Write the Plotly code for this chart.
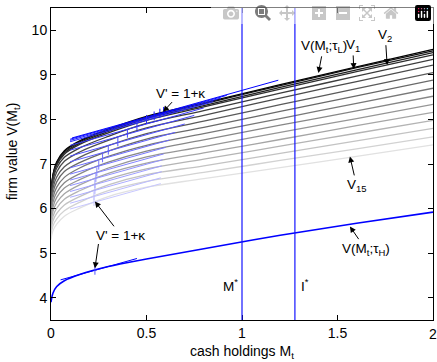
import numpy as np
import plotly.graph_objects as go

# cash holdings grid
M = [0, 0.01, 0.03, 0.07, 0.15, 0.3, 0.5, 0.8, 1.2, 1.6, 2.0]

# V(M; tau_L) (top) and V_1 ... V_15
V_tauL = [6.30, 6.75, 7.05, 7.30, 7.52, 7.78, 8.07, 8.37, 8.78, 9.18, 9.57]
V1  = [6.29, 6.74, 7.03, 7.28, 7.50, 7.76, 8.05, 8.35, 8.76, 9.16, 9.54]
V2  = [6.27, 6.71, 7.00, 7.25, 7.47, 7.73, 8.02, 8.31, 8.72, 9.11, 9.50]
V3  = [6.24, 6.68, 6.97, 7.22, 7.44, 7.70, 7.98, 8.28, 8.68, 9.07, 9.45]
V4  = [6.20, 6.62, 6.91, 7.15, 7.36, 7.62, 7.91, 8.20, 8.59, 8.97, 9.35]
V5  = [6.14, 6.55, 6.82, 7.06, 7.27, 7.53, 7.81, 8.09, 8.48, 8.85, 9.22]
V6  = [6.06, 6.45, 6.71, 6.94, 7.15, 7.41, 7.68, 7.96, 8.33, 8.69, 9.05]
V7  = [5.98, 6.35, 6.60, 6.83, 7.03, 7.29, 7.56, 7.82, 8.18, 8.53, 8.88]
V8  = [5.89, 6.24, 6.48, 6.70, 6.91, 7.17, 7.42, 7.68, 8.02, 8.36, 8.70]
V9  = [5.81, 6.14, 6.36, 6.58, 6.78, 7.04, 7.29, 7.54, 7.87, 8.19, 8.52]
V10 = [5.73, 6.03, 6.25, 6.46, 6.65, 6.91, 7.16, 7.39, 7.71, 8.02, 8.34]
V11 = [5.64, 5.93, 6.13, 6.33, 6.53, 6.79, 7.02, 7.25, 7.55, 7.86, 8.16]
V12 = [5.56, 5.82, 6.01, 6.21, 6.40, 6.66, 6.89, 7.11, 7.40, 7.69, 7.98]
V13 = [5.47, 5.72, 5.89, 6.08, 6.27, 6.53, 6.76, 6.96, 7.24, 7.52, 7.80]
V14 = [5.38, 5.61, 5.77, 5.95, 6.14, 6.40, 6.61, 6.81, 7.08, 7.34, 7.61]
V15 = [5.30, 5.50, 5.65, 5.83, 6.01, 6.27, 6.48, 6.67, 6.92, 7.17, 7.43]

# V(M; tau_H) (bottom, blue)
V_tauH = [3.90, 4.10, 4.25, 4.38, 4.52, 4.70, 4.87, 5.10, 5.40, 5.67, 5.92]

family = [V_tauL, V1, V2, V3, V4, V5, V6, V7, V8, V9, V10, V11, V12, V13, V14, V15]

# points where V' = 1 + kappa for each curve of the family
tangent_M = [0.59, 0.57, 0.54, 0.50, 0.45, 0.40, 0.35, 0.30, 0.27, 0.25,
             0.24, 0.235, 0.23, 0.23, 0.225, 0.225]
tangent_M_tauH = 0.23
slope = 1.2  # 1 + kappa

M_star = 1.0
I_star = 1.277

x_ticks = [0, 0.5, 1, 1.5, 2]
x_tick_labels = ["0", "0.5", "1", "1.5", "2"]
y_ticks = [4, 5, 6, 7, 8, 9, 10]

fig = go.Figure()

n = len(family)
for i, curve in enumerate(family):
    g = round(i / (n - 1) * 225)
    fig.add_trace(go.Scatter(x=M, y=curve, mode="lines", line_shape="spline",
                             line=dict(color=f"rgb({g},{g},{g})", width=1.3),
                             hoverinfo="skip", showlegend=False))

# tangent segments and ticks
for i, curve in enumerate(family):
    b = round(i / (n - 1) * 200)
    col = f"rgb({b},{b},255)"
    xt = tangent_M[i]
    yt = float(np.interp(xt, M, curve))
    x0 = max(0.1, xt - 0.48)
    x1 = xt + 0.6 if i == 0 else xt + 0.35
    fig.add_trace(go.Scatter(x=[x0, x1], y=[yt + slope * (x0 - xt), yt + slope * (x1 - xt)],
                             mode="lines", line=dict(color=col, width=1),
                             hoverinfo="skip", showlegend=False))
    fig.add_trace(go.Scatter(x=[xt, xt], y=[yt - 0.08, yt + 0.12],
                             mode="lines", line=dict(color=col, width=1),
                             hoverinfo="skip", showlegend=False))

fig.add_trace(go.Scatter(x=M, y=V_tauH, mode="lines", line_shape="spline",
                         line=dict(color="#0000ff", width=1.6),
                         hoverinfo="skip", showlegend=False))
yt = float(np.interp(tangent_M_tauH, M, V_tauH))
x0, x1 = 0.05, 0.45
fig.add_trace(go.Scatter(x=[x0, x1], y=[yt + slope * (x0 - tangent_M_tauH), yt + slope * (x1 - tangent_M_tauH)],
                         mode="lines", line=dict(color="#0000ff", width=1),
                         hoverinfo="skip", showlegend=False))
fig.add_trace(go.Scatter(x=[tangent_M_tauH] * 2, y=[yt - 0.1, yt + 0.1], mode="lines",
                         line=dict(color="rgb(80,80,255)", width=1),
                         hoverinfo="skip", showlegend=False))

for xv in [M_star, I_star]:
    fig.add_shape(type="line", x0=xv, x1=xv, y0=0, y1=1, xref="x", yref="paper",
                  line=dict(color="rgb(20,20,255)", width=1.2), layer="above")

FONT = "Liberation Sans, Arial, Helvetica, sans-serif"
ann_font = dict(family=FONT, size=13.5, color="black")

def arrow(text, tx, ty, hx, hy, **kw):
    fig.add_annotation(x=hx, y=hy, ax=tx, ay=ty, xref="x", yref="y", axref="x", ayref="y",
                       text=text, showarrow=True, arrowhead=2, arrowsize=1.2, arrowwidth=1,
                       arrowcolor="black", font=ann_font, **kw)

arrow("V' = 1+κ", 0.677, 8.59, 0.587, 8.17)
arrow("V' = 1+κ", 0.366, 5.40, 0.23, 6.16)
arrow(" ", 0.25, 5.25, 0.23, 4.66, font_size=1)
arrow("V(M<sub>t</sub>;τ<sub>L</sub>)", 1.427, 9.64, 1.40, 9.04)
arrow("V<sub>1</sub>", 1.58, 9.66, 1.585, 9.13)
arrow("V<sub>2</sub>", 1.75, 9.89, 1.76, 9.22)
arrow("V<sub>15</sub>", 1.60, 6.52, 1.565, 7.17)
arrow("V(M<sub>t</sub>;τ<sub>H</sub>)", 1.647, 5.09, 1.565, 5.60)

fig.add_annotation(x=0.94, y=4.29, xref="x", yref="y", text="M<sup>*</sup>",
                   showarrow=False, font=ann_font)
fig.add_annotation(x=1.33, y=4.29, xref="x", yref="y", text="I<sup>*</sup>",
                   showarrow=False, font=ann_font)

# last x tick label, drawn at the right end of the axis
fig.add_annotation(x=1, y=0, xref="paper", yref="paper", xanchor="center", yanchor="middle",
                   yshift=-13.5, text=x_tick_labels[-1], showarrow=False, borderpad=0,
                   font=dict(family=FONT, size=14, color="black"))

# axis titles
fig.add_annotation(x=0.5, y=-0.104, xref="paper", yref="paper", yanchor="middle",
                   text="cash holdings M<sub>t</sub>", showarrow=False,
                   font=dict(family=FONT, size=14, color="black"))
fig.add_annotation(x=-0.1, y=0.54, xref="paper", yref="paper", xanchor="center",
                   yanchor="middle", textangle=-90,
                   text="firm value V(M<sub>t</sub>)", showarrow=False,
                   font=dict(family=FONT, size=14, color="black"))

axis_common = dict(showline=True, linecolor="black", linewidth=1, mirror="ticks",
                   ticks="inside", ticklen=5, tickcolor="black", showgrid=False,
                   zeroline=False, automargin=False,
                   tickfont=dict(family=FONT, size=14, color="black"))

fig.update_layout(
    width=437, height=362,
    margin=dict(l=51, r=4, t=8, b=42),
    paper_bgcolor="white", plot_bgcolor="white",
    font=dict(family=FONT, color="black"),
    xaxis=dict(range=[0, 2], tickmode="array", tickvals=x_ticks,
               ticktext=x_tick_labels[:-1] + [""], **axis_common),
    yaxis=dict(range=[3.5, 10.5], tickmode="array", tickvals=y_ticks, **axis_common),
)

# remove the page's default body margin so the figure fills the window exactly
fig.write_html("out.html",
               post_script="document.body.style.margin='0';document.body.style.overflow='hidden';")
